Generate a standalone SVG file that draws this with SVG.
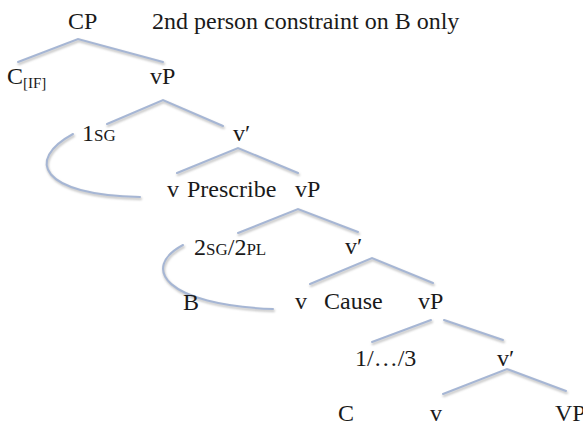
<svg xmlns="http://www.w3.org/2000/svg" width="583" height="425" viewBox="0 0 583 425" font-family="'Liberation Serif', 'Times New Roman', serif">
<defs>
<filter id="sh" x="-10%" y="-30%" width="120%" height="160%">
<feGaussianBlur stdDeviation="0.8"/>
</filter>
</defs>
<style>
text{font-family:'Liberation Serif','Times New Roman',serif;font-size:24px;fill:#1a1a1a}
.sc{font-size:17px}
.sub{font-size:15px}
.shadow{fill:none;stroke:#c4c4c4;stroke-width:2.5;stroke-linecap:round}
.br{fill:none;stroke:#a6b6d4;stroke-width:2;stroke-linecap:round}
</style>
<rect width="583" height="425" fill="#ffffff"/>
<g id="connectors">
<g class="shadow" filter="url(#sh)" transform="translate(0.8,1.8)">
<path d="M18,62 L78,39 L163,62"/>
<path d="M107,124 L163,100 L223,126"/>
<path d="M177,173 L238,148 L298,173"/>
<path d="M238,233 L298,209 L358,232"/>
<path d="M310,284 L372,258 L433,283"/>
<path d="M372,342 L431,320"/>
<path d="M444,320 L503,340"/>
<path d="M443,394 L507,369 L566,391"/>
<path d="M73,134 C25,160 40,195 140,197"/>
<path d="M183,245 C140,268 165,305 273,309"/>
</g>
<g class="br">
<path d="M18,62 L78,39 L163,62"/>
<path d="M107,124 L163,100 L223,126"/>
<path d="M177,173 L238,148 L298,173"/>
<path d="M238,233 L298,209 L358,232"/>
<path d="M310,284 L372,258 L433,283"/>
<path d="M372,342 L431,320"/>
<path d="M444,320 L503,340"/>
<path d="M443,394 L507,369 L566,391"/>
<path d="M73,134 C25,160 40,195 140,197"/>
<path d="M183,245 C140,268 165,305 273,309"/>
</g>
</g>
<g id="title"><text x="152" y="29" font-family="'Liberation Serif', serif">2nd person constraint on B only</text></g>
<g id="n-cp"><text x="68" y="29" font-family="'Liberation Serif', serif">CP</text></g>
<g id="n-cif"><text x="7" y="84" font-family="'Liberation Serif', serif">C<tspan class="sub" dy="4">[IF]</tspan></text></g>
<g id="n-vp1"><text x="150" y="84" font-family="'Liberation Serif', serif">vP</text></g>
<g id="n-1sg"><text x="82" y="141" font-family="'Liberation Serif', serif">1<tspan class="sc">SG</tspan></text></g>
<g id="n-vbar1"><text x="233" y="141" font-family="'Liberation Serif', serif">v′</text></g>
<g id="n-v1"><text x="167" y="197" font-family="'Liberation Serif', serif">v</text></g>
<g id="n-prescribe"><text x="187" y="197" font-family="'Liberation Serif', serif">Prescribe</text></g>
<g id="n-vp2"><text x="295" y="197" font-family="'Liberation Serif', serif">vP</text></g>
<g id="n-2sg"><text x="194" y="255" font-family="'Liberation Serif', serif">2<tspan class="sc">SG</tspan>/2<tspan class="sc">PL</tspan></text></g>
<g id="n-vbar2"><text x="345" y="254" font-family="'Liberation Serif', serif">v′</text></g>
<g id="n-b"><text x="183" y="310" font-family="'Liberation Serif', serif">B</text></g>
<g id="n-v2"><text x="295" y="309" font-family="'Liberation Serif', serif">v</text></g>
<g id="n-cause"><text x="324" y="309" font-family="'Liberation Serif', serif">Cause</text></g>
<g id="n-vp3"><text x="418" y="309" font-family="'Liberation Serif', serif">vP</text></g>
<g id="n-123"><text x="355" y="366" font-family="'Liberation Serif', serif">1/…/3</text></g>
<g id="n-vbar3"><text x="497" y="366" font-family="'Liberation Serif', serif">v′</text></g>
<g id="n-c"><text x="338" y="421" font-family="'Liberation Serif', serif">C</text></g>
<g id="n-v3"><text x="430" y="421" font-family="'Liberation Serif', serif">v</text></g>
<g id="n-vp4"><text x="555" y="421" font-family="'Liberation Serif', serif">VP</text></g>
</svg>
